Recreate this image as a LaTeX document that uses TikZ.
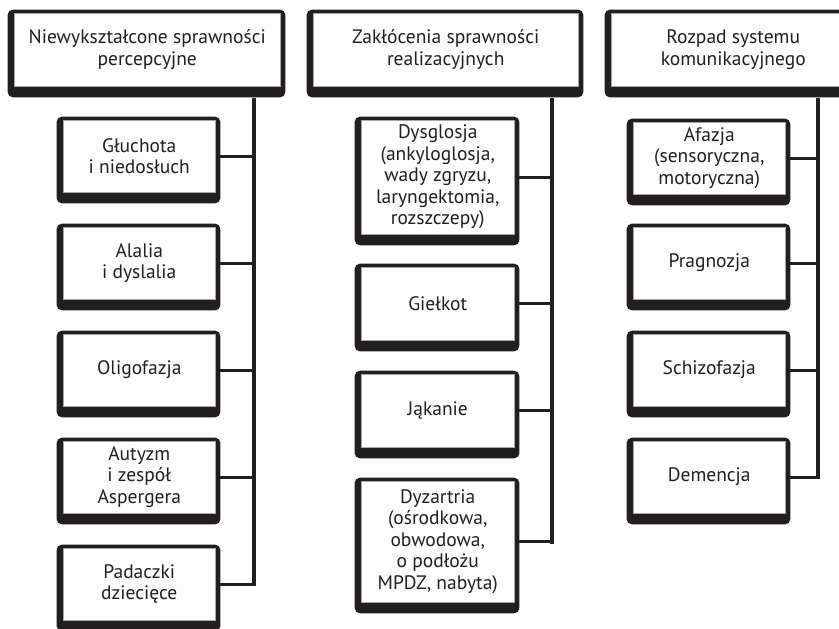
\documentclass[tikz,border=0pt]{standalone}
\usepackage{fontspec}
\setmainfont{PT Sans}
\usetikzlibrary{backgrounds}
\definecolor{ink}{HTML}{231F20}
\definecolor{paper}{HTML}{FDFDFD}
\begin{document}
\begin{tikzpicture}[x=1pt,y=-1pt,
  inbox/.style 2 args={rectangle, minimum width=#1pt, minimum height=#2pt, inner sep=0pt,
    fill=paper, draw=gray!70, line width=0.6pt, align=center, text=ink,
    font=\fontsize{19.5}{21.5}\selectfont},
  conn/.style={draw=ink, line width=3pt},
  vline/.style={draw=ink, line width=4.5pt, line cap=rect},
  shadow/.style={fill=ink, rounded corners=5pt}]
\useasboundingbox (0,0) rectangle (839,629);
\clip (0,0) rectangle (839,629);
% headers
\node[inbox={265.5}{73}] (h1) at (147.25,49.5) {Niewykształcone sprawności\\percepcyjne};
\node[inbox={264.5}{73}] (h2) at (445.75,49.5) {Zakłócenia sprawności\\realizacyjnych};
\node[inbox={243.5}{73}] (h3) at (733.25,49.5) {Rozpad systemu\\komunikacyjnego};
% left column
\node[inbox={151.5}{72}] (a1) at (139.25,156) {Głuchota\\i niedosłuch};
\node[inbox={151.5}{72}] (a2) at (139.25,263) {Alalia\\i dyslalia};
\node[inbox={151.5}{72}] (a3) at (139.25,370) {Oligofazja};
\node[inbox={151.5}{72}] (a4) at (139.25,477) {Autyzm\\i zespół\\Aspergera};
\node[inbox={151.5}{72}] (a5) at (139.25,584) {Padaczki\\dziecięce};
% middle column
\node[inbox={152.5}{114}] (b1) at (437.75,177) {Dysglosja\\(ankyloglosja,\\wady zgryzu,\\laryngektomia,\\rozszczepy)};
\node[inbox={152.5}{73}] (b2) at (437.75,303.5) {Giełkot};
\node[inbox={152.5}{73}] (b3) at (437.75,410.5) {Jąkanie};
\node[inbox={152.5}{121}] (b4) at (437.75,541.5) {Dyzartria\\(ośrodkowa,\\obwodowa,\\o podłożu\\MPDZ, nabyta)};
% right column
\node[inbox={151.5}{72}] (c1) at (709.25,158) {Afazja\\(sensoryczna,\\motoryczna)};
\node[inbox={151.5}{72}] (c2) at (709.25,263) {Pragnozja};
\node[inbox={151.5}{72}] (c3) at (709.25,370) {Schizofazja};
\node[inbox={151.5}{72}] (c4) at (709.25,477) {Demencja};
% shadows
\begin{scope}[on background layer]
  \clip (0,0) rectangle (839,629);
  \foreach \n in {h1,h2,h3,a1,a2,a3,a4,a5,b1,b2,b3,b4,c1,c2,c3,c4}
    \path[shadow] ([shift={(-6.5pt,3pt)}]\n.north west) rectangle ([shift={(5pt,-11pt)}]\n.south east);
\end{scope}
% trunk coordinates
\coordinate (L1) at (254,100);
\coordinate (L2) at (552,100);
\coordinate (L3) at (818,100);
% connectors
\foreach \n in {a1,a2,a3,a4,a5}
  \draw[conn] ([xshift=5pt]\n.east) -- (\n.east -| L1);
\foreach \n in {b1,b2,b3,b4}
  \draw[conn] ([xshift=5pt]\n.east) -- (\n.east -| L2);
\foreach \n in {c1,c2,c3,c4}
  \draw[conn] ([xshift=5pt]\n.east) -- (\n.east -| L3);
\draw[vline] (L1) -- (L1 |- a5.east);
\draw[vline] (L2) -- (L2 |- b4.east);
\draw[vline] (L3) -- (L3 |- c4.east);
\end{tikzpicture}
\end{document}
